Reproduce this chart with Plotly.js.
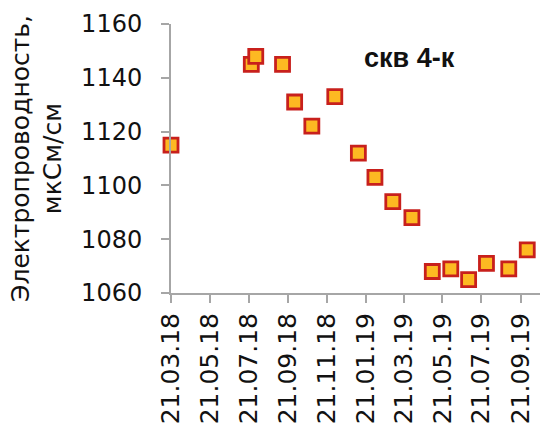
<!DOCTYPE html>
<html>
<head>
<meta charset="utf-8">
<script src="https://cdn.plot.ly/plotly-3.0.1.min.js"></script>
<style>html,body{margin:0;padding:0;background:#fff;}#chart{width:541px;height:427px;}</style>
</head>
<body>
<div id="chart"></div>
<script>
const dates = ["2018-03-21","2018-07-25","2018-08-01","2018-09-12","2018-10-01","2018-10-28","2018-12-03","2019-01-09","2019-02-04","2019-03-04","2019-04-03","2019-05-05","2019-06-03","2019-07-01","2019-07-29","2019-09-02","2019-10-01"];
const conductivity = [1115,1145,1148,1145,1131,1122,1133,1112,1103,1094,1088,1068,1069,1065,1071,1069,1076];
const tickDates = ["2018-03-21","2018-05-21","2018-07-21","2018-09-21","2018-11-21","2019-01-21","2019-03-21","2019-05-21","2019-07-21","2019-09-21"];
const tickLabels = ["21.03.18","21.05.18","21.07.18","21.09.18","21.11.18","21.01.19","21.03.19","21.05.19","21.07.19","21.09.19"];
const yTicks = [1060,1080,1100,1120,1140,1160];

const trace = {
  x: dates, y: conductivity, type: 'scatter', mode: 'markers',
  marker: {symbol: 'square', size: 14, color: '#FDB922', line: {color: '#C8201C', width: 2.8}},
  cliponaxis: false
};
const layout = {
  width: 541, height: 427,
  margin: {l: 171, r: 1, t: 24, b: 134},
  paper_bgcolor: '#fff', plot_bgcolor: '#fff',
  showlegend: false,
  font: {family: 'DejaVu Sans, sans-serif', color: '#111', size: 24},
  xaxis: {
    type: 'date', range: ['2018-03-21', '2019-10-21'],
    tickmode: 'array', tickvals: tickDates, ticktext: tickLabels,
    tickangle: -90, ticks: 'outside', ticklen: 8, tickcolor: '#A6A6A6', tickwidth: 2,
    showline: true, linecolor: '#A6A6A6', linewidth: 2, showgrid: false, zeroline: false,
    tickfont: {size: 25}
  },
  yaxis: {
    range: [1060, 1160], tickmode: 'array', tickvals: yTicks,
    ticks: 'outside', ticklen: 8, tickcolor: '#A6A6A6', tickwidth: 2,
    showline: true, linecolor: '#A6A6A6', linewidth: 2, showgrid: false, zeroline: false,
    tickfont: {size: 24}, ticklabelstandoff: 14,
    title: {text: 'Электропроводность,<br>мкСм/см', font: {size: 25}, standoff: 12}
  },
  annotations: [{
    text: '<b>скв 4-к</b>', xref: 'paper', yref: 'paper', x: 0.645, y: 0.875,
    xanchor: 'center', yanchor: 'middle', showarrow: false,
    font: {family: 'Liberation Sans, Arial, sans-serif', size: 27, color: '#111'}
  }]
};
Plotly.newPlot('chart', [trace], layout, {displayModeBar: false, staticPlot: true});
</script>
</body>
</html>
